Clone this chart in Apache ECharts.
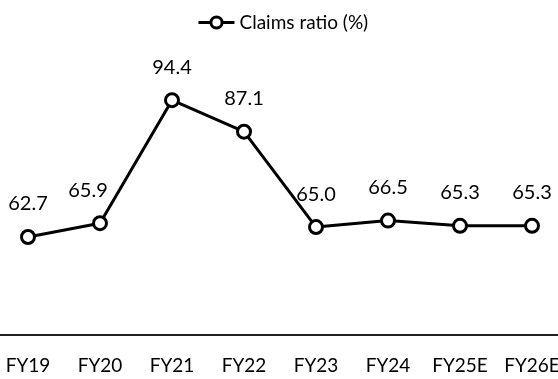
<!DOCTYPE html>
<html>
<head>
<meta charset="utf-8">
<script src="https://cdn.jsdelivr.net/npm/echarts@6/dist/echarts.min.js"></script>
<style>
  html, body { margin: 0; padding: 0; background: #fff; overflow: hidden; }
  /* plot runs slightly past both window edges */
  #chart { width: 576px; height: 379px; margin-left: -8px; }
</style>
</head>
<body>
<div id="chart"></div>
<script>
// Fiscal years and claims ratio values
const categories = ['FY19', 'FY20', 'FY21', 'FY22', 'FY23', 'FY24', 'FY25E', 'FY26E'];
const claimsRatio = [62.7, 65.9, 94.4, 87.1, 65.0, 66.5, 65.3, 65.3];
const seriesName = 'Claims ratio (%)';

const FONT = 'Lato, "Noto Sans", sans-serif';
const chart = echarts.init(document.getElementById('chart'), null, { renderer: 'canvas' });

// FY20's value label sits left of its point, clear of the rising segment
const pointData = claimsRatio.map((v, i) =>
  i === 1 ? { value: v, label: { offset: [-12, 0] } } : v
);

chart.setOption({
  animation: false,
  backgroundColor: '#ffffff',
  legend: {
    data: [seriesName],
    left: 200,
    top: 8,
    itemWidth: 36,
    itemHeight: 14,
    lineStyle: { width: 3, color: '#000' },
    itemStyle: { color: '#fff', borderColor: '#000', borderWidth: 3 },
    textStyle: { fontFamily: FONT, fontSize: 19, color: '#000' }
  },
  grid: { left: 0, right: 0, top: 76, bottom: 44, containLabel: false },
  xAxis: {
    type: 'category',
    data: categories,
    boundaryGap: true,
    axisLine: { lineStyle: { color: '#222', width: 2 } },
    axisTick: { show: false },
    axisLabel: { interval: 0, fontFamily: FONT, fontSize: 19, color: '#000', margin: 21 }
  },
  yAxis: {
    type: 'value',
    min: 40,
    max: 100,
    show: false,
    splitLine: { show: false }
  },
  series: [{
    name: seriesName,
    type: 'line',
    data: pointData,
    symbol: 'circle',
    symbolSize: 13,
    lineStyle: { color: '#000', width: 3 },
    itemStyle: { color: '#fff', borderColor: '#000', borderWidth: 3 },
    label: {
      show: true,
      position: 'top',
      distance: 15,
      formatter: p => Number(p.value).toFixed(1),
      fontFamily: FONT,
      fontSize: 20,
      color: '#000'
    }
  }]
});
</script>
</body>
</html>
